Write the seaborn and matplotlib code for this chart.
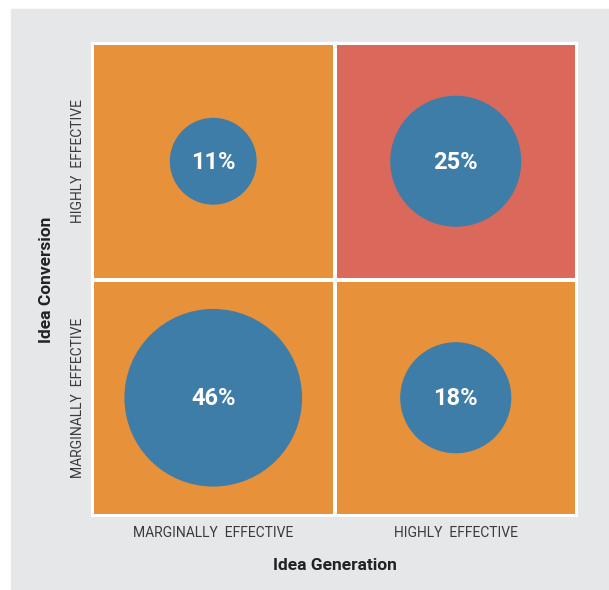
import numpy as np
import pandas as pd
import matplotlib
matplotlib.use('Agg')
import matplotlib.pyplot as plt
from matplotlib.colors import ListedColormap
from matplotlib.patches import Rectangle
import seaborn as sns

# quadrant data
generation = ['MARGINALLY  EFFECTIVE', 'HIGHLY  EFFECTIVE']
conversion = ['HIGHLY  EFFECTIVE', 'MARGINALLY  EFFECTIVE']  # top to bottom
shares = [[11, 25],
          [46, 18]]
highlight = [[0, 1],
             [0, 0]]

sns.set_theme(style='white')
plt.rcParams['font.family'] = ['Roboto', 'DejaVu Sans']

fig = plt.figure(figsize=(6.09, 5.90), dpi=100)
fig.patches.append(Rectangle((11 / 609, 0), 1 - 11 / 609, 1 - 9 / 590,
                             transform=fig.transFigure, color='#E6E7E8', zorder=-1))
ax = fig.add_axes([92 / 609, 1 - 516 / 590, 485 / 609, 473 / 590])

sns.heatmap(np.array(highlight), cmap=ListedColormap(['#E8913B', '#DA695B']),
            cbar=False, linewidths=1.5, linecolor='white', ax=ax)

rows = []
for i, row in enumerate(shares):
    for j, v in enumerate(row):
        rows.append({'x': j + 0.5, 'y': i + 0.5, 'share': v})
pts = pd.DataFrame(rows)
k = 355.8
sns.scatterplot(data=pts, x='x', y='y', size='share',
                sizes=(k * pts['share'].min(), k * pts['share'].max()),
                color='#3D7DA8', edgecolor='none', legend=False, ax=ax, zorder=3)
for _, r in pts.iterrows():
    ax.text(r['x'], r['y'] + 0.005, f"{int(r['share'])}%", ha='center', va='center',
            color='white', fontsize=17, fontweight='bold', zorder=4)

ax.set_xlim(0, 2)
ax.set_ylim(2, 0)
ax.set_xticks([0.5, 1.5])
ax.set_xticklabels(generation, fontsize=10, color='#3a3a3a')
ax.set_yticks([0.5, 1.5])
ax.set_yticklabels(conversion, fontsize=10, color='#3a3a3a', rotation=90, va='center')
ax.tick_params(axis='x', length=0, pad=7)
ax.tick_params(axis='y', length=0, pad=5)
ax.set_xlabel('Idea Generation', fontsize=12.5, fontweight='bold', color='#222222', labelpad=13)
ax.set_ylabel('Idea Conversion', fontsize=12.5, fontweight='bold', color='#222222', labelpad=12)
for s in ax.spines.values():
    s.set_visible(True)
    s.set_color('white')
    s.set_linewidth(1.5)

fig.savefig('out.png', dpi=100)
